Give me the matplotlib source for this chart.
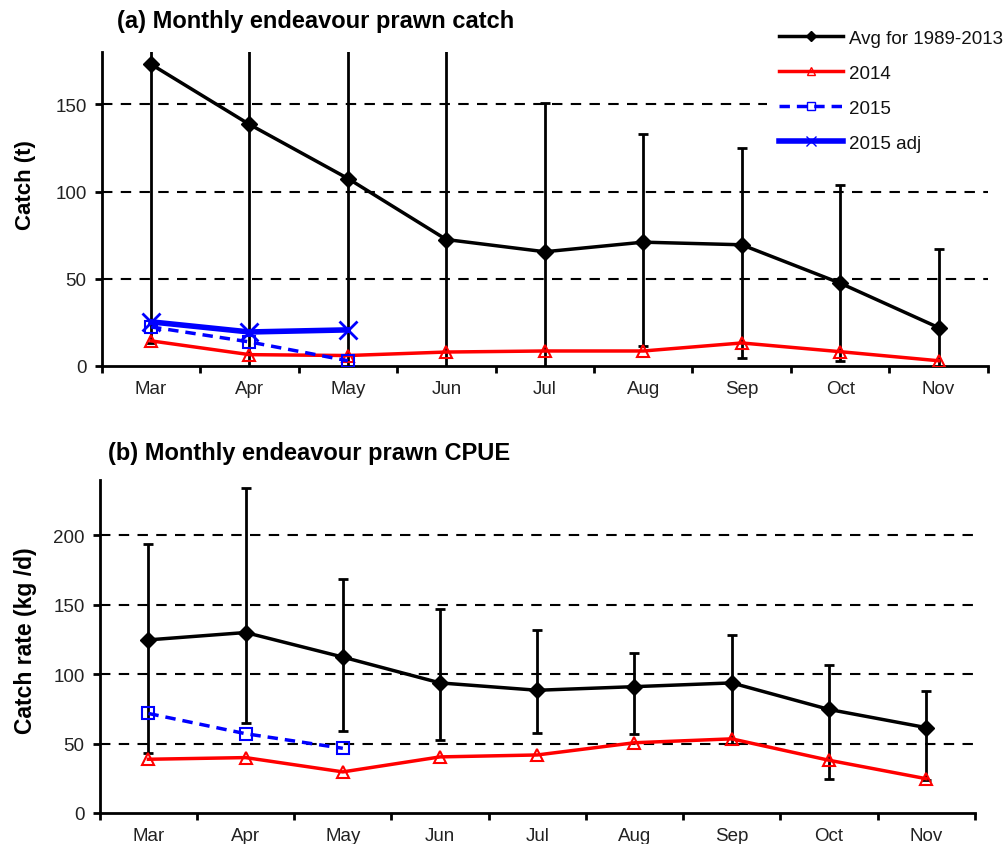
import matplotlib
matplotlib.use("Agg")
import matplotlib.pyplot as plt
import numpy as np
from matplotlib.lines import Line2D

plt.rcParams['font.family'] = ['Liberation Sans', 'DejaVu Sans']

months = ["Mar", "Apr", "May", "Jun", "Jul", "Aug", "Sep", "Oct", "Nov"]

# Panel (a): catch (t)
catch_avg = [173, 138.5, 107.5, 72.5, 65.5, 71, 69.5, 47.5, 22]
catch_hi = [330, 290, 240, 200, 151, 133, 125, 104, 67]
catch_lo = [13, -20, -30, -20, -20, 11.5, 4.6, 2.8, -20]
catch_2014 = [14.4, 6.5, 6, 8, 8.6, 8.6, 13.2, 8.2, 3]
catch_2015 = [22.4, 13.8, 3]
catch_2015adj = [25.3, 19.5, 20.7]

# Panel (b): CPUE (kg/d)
cpue_avg = [124.7, 130, 112.3, 93.7, 88.4, 91, 93.7, 74.6, 61.5]
cpue_hi = [194, 234, 168.2, 147, 132, 115.6, 128.3, 106.3, 88.2]
cpue_lo = [43.5, 64.9, 59, 52.3, 57.8, 56.6, 49.5, 24.4, 24]
cpue_2014 = [38.7, 39.9, 29.6, 40.4, 41.8, 50.6, 53.4, 38, 24.7]
cpue_2015 = [71.7, 57.1, 46.6]

legend_labels = ["Avg for 1989-2013", "2014", "2015", "2015 adj"]

fig = plt.figure(figsize=(10.08, 8.45), dpi=100)
axa = fig.add_axes([0.101, 0.5657, 0.879, 0.3715])
axb = fig.add_axes([0.099, 0.0367, 0.868, 0.3943])

x = np.arange(len(months))
x3 = x[:3]

def style(ax, ylim, yticks):
    ax.set_xlim(-0.5, len(months) - 0.5)
    ax.set_ylim(*ylim)
    ax.set_yticks(yticks)
    ax.set_xticks(x)
    ax.set_xticklabels(months)
    ax.set_xticks(np.arange(-0.5, len(months), 1.0), minor=True)
    ax.tick_params(axis='x', which='major', length=0, pad=10, labelsize=13.5, colors='#222222')
    ax.tick_params(axis='x', which='minor', length=5, width=2, direction='out', color='black')
    ax.tick_params(axis='y', which='major', length=5, width=2, direction='out', pad=6,
                   labelsize=13.5, labelcolor='#222222', color='black')
    for s in ['top', 'right']:
        ax.spines[s].set_visible(False)
    for s in ['left', 'bottom']:
        ax.spines[s].set_linewidth(2)
    for yv in yticks[1:]:
        ax.axhline(yv, color='black', lw=1.5, ls=(0, (5, 4)), zorder=1)

def draw_avg(ax, avg, lo, hi):
    avg = np.array(avg); lo = np.array(lo); hi = np.array(hi)
    ax.errorbar(x, avg, yerr=[avg - lo, hi - avg], fmt='none', ecolor='black',
                elinewidth=2, capsize=3.8, capthick=2, zorder=2)
    ax.plot(x, avg, color='black', lw=2.5, marker='D', markersize=8, zorder=3)

# Panel a
style(axa, (0, 180), [0, 50, 100, 150])
draw_avg(axa, catch_avg, catch_lo, catch_hi)
axa.plot(x, catch_2014, color='red', lw=2.5, marker='^', markersize=9,
         markerfacecolor='none', markeredgewidth=1.5, zorder=4)
axa.plot(x3, catch_2015, color='blue', lw=2.5, ls=(0, (3, 2)), marker='s', markersize=9,
         markerfacecolor='none', markeredgewidth=1.5, zorder=5)
axa.plot(x3, catch_2015adj, color='blue', lw=4, marker='x', markersize=13,
         markeredgewidth=2, zorder=6)
axa.set_ylabel("Catch (t)", fontsize=16, fontweight='bold')
axa.yaxis.set_label_coords(-0.074, 0.58)
fig.text(0.116, 0.974, "(a) Monthly endeavour prawn catch", fontsize=17,
         fontweight='bold', ha='left', va='center')

# Panel b
style(axb, (0, 240), [0, 50, 100, 150, 200])
draw_avg(axb, cpue_avg, cpue_lo, cpue_hi)
axb.plot(x, cpue_2014, color='red', lw=2.5, marker='^', markersize=9,
         markerfacecolor='none', markeredgewidth=1.5, zorder=4)
axb.plot(x3, cpue_2015, color='blue', lw=2.5, ls=(0, (3, 2)), marker='s', markersize=9,
         markerfacecolor='none', markeredgewidth=1.5, zorder=5)
axb.set_ylabel("Catch rate (kg /d)", fontsize=16.5, fontweight='bold')
axb.yaxis.set_label_coords(-0.072, 0.52)
fig.text(0.107, 0.463, "(b) Monthly endeavour prawn CPUE", fontsize=17,
         fontweight='bold', ha='left', va='center')

handles = [
    Line2D([], [], color='black', lw=2.5, marker='D', markersize=5),
    Line2D([], [], color='red', lw=2.5, marker='^', markersize=6, markerfacecolor='none', markeredgewidth=1),
    Line2D([], [], color='blue', lw=2.5, ls=(0, (3, 2)), marker='s', markersize=6, markerfacecolor='none', markeredgewidth=1),
    Line2D([], [], color='blue', lw=4, marker='x', markersize=7, markeredgewidth=1),
]
leg = fig.legend(handles, legend_labels, loc='upper left', bbox_to_anchor=(0.761, 0.978),
                 frameon=True, fontsize=13.5, handlelength=3.4, handletextpad=0.3,
                 labelspacing=0.95, borderpad=0.65, borderaxespad=0, fancybox=False)
leg.get_frame().set_facecolor('white')
leg.get_frame().set_edgecolor('none')
leg.get_frame().set_alpha(1)
for t in leg.get_texts():
    t.set_color('#111111')

fig.savefig("out.png", dpi=100)
